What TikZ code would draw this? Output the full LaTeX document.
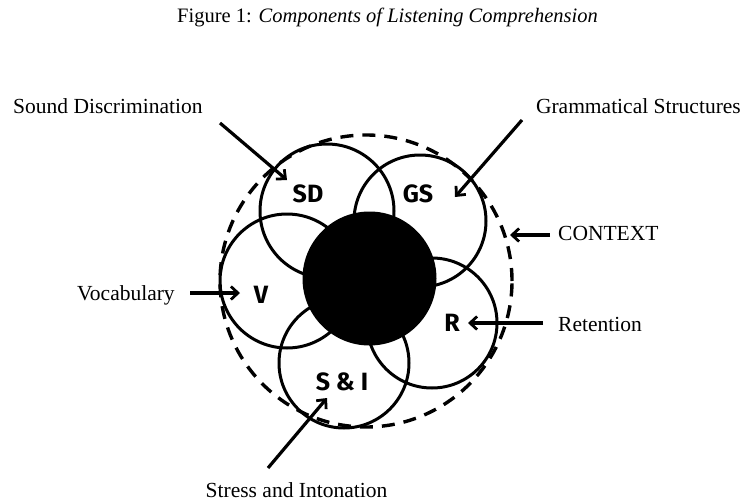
\documentclass[tikz,border=0pt]{standalone}
\usepackage{fontspec}
\setmainfont{Liberation Serif}
\newfontfamily\handfont{Fira Sans}
\usetikzlibrary{arrows.meta}

\begin{document}
\begin{tikzpicture}[x=1pt, y=-1pt,
  ring/.style={line width=3pt},
  outer/.style={line width=3.4pt, dash pattern=on 13pt off 9pt},
  pointer/.style={line width=3.2pt, -{Straight Barb[length=7pt,width=13pt,line width=2.8pt]}},
  comptext/.style={font=\fontsize{21.5}{24}\selectfont, inner sep=0pt},
  initials/.style={font=\handfont\bfseries\fontsize{25}{27}\selectfont, inner sep=0pt}]
  \useasboundingbox (0,0) rectangle (745,501);

  % Title
  \node[comptext, font=\fontsize{20.5}{23}\selectfont, anchor=base] (title) at (387.5,22)
    {Figure 1: \textit{Components of Listening Comprehension}};

  % Context
  \draw[outer] (366,281) circle[radius=146pt];

  % Components
  \draw[ring] (327,211) circle[radius=67pt];
  \draw[ring] (420,221) circle[radius=66pt];
  \draw[ring] (287,281) circle[radius=67pt];
  \draw[ring] (432,323) circle[radius=65pt];
  \draw[ring] (344,363) circle[radius=65pt];

  % Comprehension
  \fill (369.5,278.5) circle[radius=67pt];

  % Circle letters
  \node[initials] (sd) at (308,194) {SD};
  \node[initials] (gs) at (418,194) {GS};
  \node[initials] (v) at (261,295) {V};
  \node[initials] (r) at (452,323) {R};
  \node[initials] (si) at (342,382) {S \& I};

  % Outside labels
  \node[comptext, anchor=base west] (sdtext) at (13,113) {Sound Discrimination};
  \node[comptext, anchor=base east] (gstext) at (741,113) {Grammatical Structures};
  \node[comptext, anchor=base west] (ctxtext) at (558,240) {CONTEXT};
  \node[comptext, anchor=base west] (voctext) at (77,300) {Vocabulary};
  \node[comptext, anchor=base west] (rettext) at (558,331) {Retention};
  \node[comptext, anchor=base] (sitext) at (296.5,497) {Stress and Intonation};

  % Arrow ends
  \coordinate (sd tail) at (220,123);  \coordinate (sd tip) at (287,180);
  \coordinate (gs tail) at (522,120);  \coordinate (gs tip) at (455,197);
  \coordinate (ctx tail) at (550,235); \coordinate (ctx tip) at (510,235);
  \coordinate (voc tail) at (190,293); \coordinate (voc tip) at (240,293);
  \coordinate (ret tail) at (543,323); \coordinate (ret tip) at (468,323);
  \coordinate (si tail) at (268,468);  \coordinate (si tip) at (327,398);

  % Arrows
  \draw[pointer] (sd tail) -- (sd tip);
  \draw[pointer] (gs tail) -- (gs tip);
  \draw[pointer] (ctx tail) -- (ctx tip);
  \draw[pointer] (voc tail) -- (voc tip);
  \draw[pointer] (ret tail) -- (ret tip);
  \draw[pointer] (si tail) -- (si tip);
\end{tikzpicture}
\end{document}
